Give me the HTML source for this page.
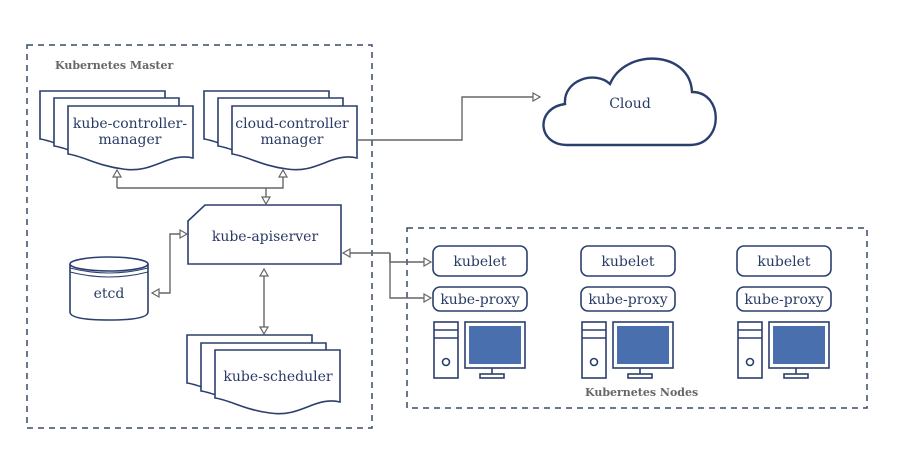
<!DOCTYPE html>
<html><head><meta charset="utf-8"><style>
html,body{margin:0;padding:0;background:#fff;}
svg{display:block;}
.t{font-family:"DejaVu Serif","Liberation Serif",serif;fill:#2a3a66;font-size:14px;}
.g{font-family:"DejaVu Serif","Liberation Serif",serif;fill:#666;font-size:11px;font-weight:bold;}
</style></head><body>
<svg width="903" height="464" viewBox="0 0 903 464" xmlns="http://www.w3.org/2000/svg">
<defs>
<path id="doc" d="M0 0 H125 V52 C100 46 85 68 55 63 C30 60 15 50 0 48 Z" fill="#fff" stroke="#2b3f6e" stroke-width="1.6"/>
<marker id="ar" markerWidth="10" markerHeight="10" refX="8" refY="5" orient="auto" markerUnits="userSpaceOnUse">
<path d="M1 1 L8 5 L1 9 Z" fill="#fff" stroke="#666" stroke-width="1.2"/></marker>
<g id="pc" fill="#fff" stroke="#2b3f6e" stroke-width="1.6">
<rect x="0" y="0" width="24" height="56"/>
<line x1="0" y1="8" x2="24" y2="8"/><line x1="0" y1="16" x2="24" y2="16"/>
<circle cx="12" cy="40" r="3.5"/>
<rect x="31" y="0" width="60" height="46"/>
<rect x="35" y="4" width="52" height="38" fill="#4a6fae" stroke="none"/>
<line x1="58" y1="46" x2="58" y2="52"/><rect x="46" y="52" width="24" height="4"/>
</g>
</defs>
<rect width="903" height="464" fill="#fff"/>
<rect x="27" y="45" width="345" height="383" fill="none" stroke="#3a4a66" stroke-width="1.5" stroke-dasharray="6,5"/>
<rect x="407" y="228" width="460" height="180" fill="none" stroke="#3a4a66" stroke-width="1.5" stroke-dasharray="6,5"/>
<text class="g" x="55" y="69">Kubernetes Master</text>
<text class="g" x="585" y="396">Kubernetes Nodes</text>
<path d="M567 145 C537 145 535 108 565 104 C563 80 595 70 610 84 C625 48 690 50 692 92 C724 92 724 145 690 145 Z" fill="#fff" stroke="#2b3f6e" stroke-width="2.4"/>
<text class="t" x="630" y="108" text-anchor="middle">Cloud</text>
<use href="#doc" x="40" y="91"/><use href="#doc" x="54" y="98"/><use href="#doc" x="68" y="106"/>
<text class="t" x="130" y="128" text-anchor="middle">kube-controller-</text>
<text class="t" x="130" y="144" text-anchor="middle">manager</text>
<use href="#doc" x="204" y="91"/><use href="#doc" x="218" y="98"/><use href="#doc" x="232" y="106"/>
<text class="t" x="292" y="128" text-anchor="middle">cloud-controller</text>
<text class="t" x="292" y="144" text-anchor="middle">manager</text>
<use href="#doc" x="187" y="335"/><use href="#doc" x="201" y="343"/><use href="#doc" x="215" y="350"/>
<text class="t" x="278" y="381" text-anchor="middle">kube-scheduler</text>
<path d="M205 205 H341 V264 H188 V221 Z" fill="#fff" stroke="#2b3f6e" stroke-width="1.6"/>
<text class="t" x="265" y="241" text-anchor="middle">kube-apiserver</text>
<path d="M70 264 V312 Q70 320 109 320 Q148 320 148 312 V264" fill="#fff" stroke="#2b3f6e" stroke-width="1.6"/>
<ellipse cx="109" cy="264" rx="39" ry="7" fill="#fff" stroke="#2b3f6e" stroke-width="1.6"/>
<path d="M70 268 Q109 278 148 268 M70 272 Q109 282 148 272" fill="none" stroke="#2b3f6e" stroke-width="1"/>
<text class="t" x="109" y="298" text-anchor="middle">etcd</text>
<g fill="none" stroke="#666" stroke-width="1.4">
<path d="M117 188 V170" marker-end="url(#ar)"/>
<path d="M117 188 H283 V170" marker-end="url(#ar)"/>
<path d="M266 188 V204" marker-end="url(#ar)"/>
<path d="M170 250 V293 H152" marker-end="url(#ar)"/>
<path d="M170 250 V234 H187" marker-end="url(#ar)"/>
<path d="M264 300 V269" marker-end="url(#ar)"/>
<path d="M264 300 V334" marker-end="url(#ar)"/>
<path d="M390 253 H343" marker-end="url(#ar)"/>
<path d="M390 253 V262 H431" marker-end="url(#ar)"/>
<path d="M390 253 V298 H431" marker-end="url(#ar)"/>
<path d="M357 140 H462 V97 H540" marker-end="url(#ar)"/>
</g>
<g fill="#fff" stroke="#2b3f6e" stroke-width="1.6">
<rect x="433" y="246" width="94" height="30" rx="7"/><rect x="433" y="287" width="94" height="24" rx="7"/>
<rect x="581" y="246" width="94" height="30" rx="7"/><rect x="581" y="287" width="94" height="24" rx="7"/>
<rect x="737" y="246" width="94" height="30" rx="7"/><rect x="737" y="287" width="94" height="24" rx="7"/>
</g>
<text class="t" x="480" y="266" text-anchor="middle">kubelet</text>
<text class="t" x="480" y="304" text-anchor="middle">kube-proxy</text>
<text class="t" x="628" y="266" text-anchor="middle">kubelet</text>
<text class="t" x="628" y="304" text-anchor="middle">kube-proxy</text>
<text class="t" x="784" y="266" text-anchor="middle">kubelet</text>
<text class="t" x="784" y="304" text-anchor="middle">kube-proxy</text>
<use href="#pc" x="434" y="322"/><use href="#pc" x="582" y="322"/><use href="#pc" x="738" y="322"/>
</svg>
</body></html>
